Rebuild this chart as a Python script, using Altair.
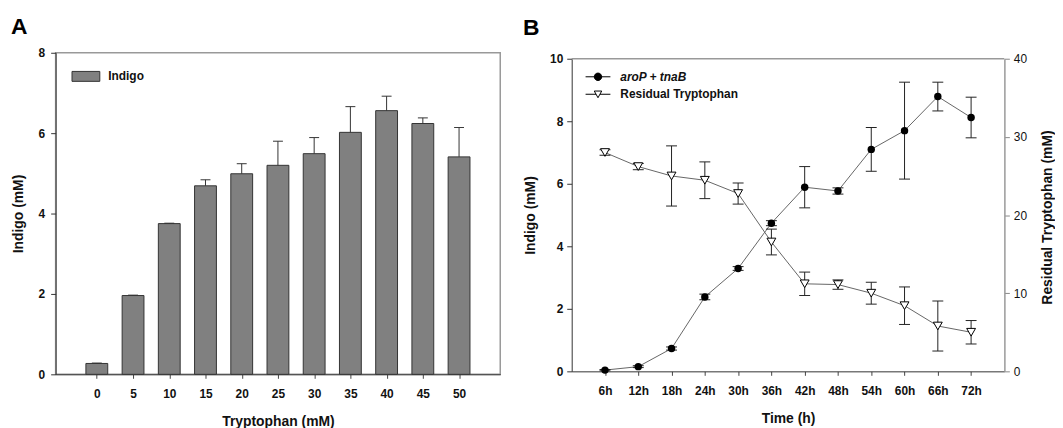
import altair as alt
import pandas as pd

FONT = "Liberation Sans"

# ---------------- Panel A data ----------------
TRP_CONC = [0, 5, 10, 15, 20, 25, 30, 35, 40, 45, 50]
INDIGO_A = [0.27, 1.96, 3.75, 4.69, 4.99, 5.20, 5.49, 6.02, 6.56, 6.24, 5.41]
INDIGO_A_ERR = [0.01, 0.01, 0.01, 0.15, 0.25, 0.60, 0.40, 0.64, 0.36, 0.14, 0.73]
A_TICKS_Y = [0, 2, 4, 6, 8]
SERIES_A = "Indigo"

# ---------------- Panel B data ----------------
TIME_LABELS = ["6h", "12h", "18h", "24h", "30h", "36h", "42h", "48h", "54h", "60h", "66h", "72h"]
INDIGO_B = [0.04, 0.15, 0.73, 2.38, 3.29, 4.74, 5.89, 5.77, 7.10, 7.70, 8.79, 8.12]
INDIGO_B_ERR = [0.02, 0.03, 0.05, 0.09, 0.06, 0.08, 0.66, 0.10, 0.70, 1.55, 0.46, 0.65]
TRP_B = [28.0, 26.2, 25.0, 24.45, 22.75, 16.55, 11.2, 11.1, 10.0, 8.4, 5.8, 5.0]
TRP_B_ERR = [0.35, 0.4, 3.85, 2.35, 1.35, 1.65, 1.5, 0.6, 1.4, 2.4, 3.2, 1.5]
B_TICKS_LEFT = [0, 2, 4, 6, 8, 10]
B_TICKS_RIGHT = [0, 10, 20, 30, 40]
SERIES_B1 = "aroP + tnaB"
SERIES_B2 = "Residual Tryptophan"

dfA = pd.DataFrame({"trp": TRP_CONC, "indigo": INDIGO_A, "err": INDIGO_A_ERR})
dfA["hi"] = dfA["indigo"] + dfA["err"]
dfA["series"] = SERIES_A

dfB = pd.DataFrame({
    "time": TIME_LABELS,
    "idx": list(range(len(TIME_LABELS))),
    "ind": INDIGO_B,
    "ind_err": INDIGO_B_ERR,
    "trp": TRP_B,
    "trp_err": TRP_B_ERR,
})
dfB["ind_lo"] = dfB["ind"] - dfB["ind_err"]
dfB["ind_hi"] = dfB["ind"] + dfB["ind_err"]
dfB["trp_lo"] = dfB["trp"] - dfB["trp_err"]
dfB["trp_hi"] = dfB["trp"] + dfB["trp_err"]
dfB["s1"] = SERIES_B1
dfB["s2"] = SERIES_B2
dfFrame = pd.DataFrame({"top": [max(B_TICKS_LEFT)]})

DARK = "#333333"
TXT = "#111111"
FRAME = "#999999"

common_lab = dict(labelFont=FONT, labelFontSize=12, labelColor=TXT,
                  titleFont=FONT, titleFontSize=14, titleFontWeight="bold", titleColor=TXT,
                  grid=False)

# ---------------- Panel A ----------------
WA, HA = 448, 324
xA = alt.X("trp:Q", scale=alt.Scale(domain=[-5, 55], nice=False, zero=False),
           axis=alt.Axis(values=TRP_CONC, format="d", title="Tryptophan (mM)",
                         tickSize=4, tickColor="#444444", domainColor=DARK,
                         labelPadding=10, labelFontWeight="bold",
                         titleY=41, titleBaseline="top", **common_lab))
yScaleA = alt.Scale(domain=[0, 8], nice=False, zero=True)
yAxisA = alt.Axis(values=A_TICKS_Y, title="Indigo (mM)", tickSize=5, tickColor=DARK,
                  domainColor=DARK, labelPadding=6, labelFontWeight="bold",
                  titleX=-37, titleY=HA / 2, titleAngle=270, titleBaseline="middle",
                  **common_lab)

legA = alt.Legend(title=None, orient="none", legendX=16, legendY=9.3,
                  symbolType="M-1,-0.357H1V0.357H-1Z", symbolSize=784,
                  symbolStrokeWidth=1, symbolStrokeColor=DARK, symbolFillColor="#808080",
                  labelFont=FONT, labelFontSize=12, labelFontWeight="bold", labelColor=TXT,
                  labelOffset=8, padding=0)

barsA = alt.Chart(dfA).mark_bar(size=22, stroke=DARK, strokeWidth=1).encode(
    x=xA,
    y=alt.Y("indigo:Q", scale=yScaleA, axis=yAxisA),
    fill=alt.Fill("series:N", scale=alt.Scale(domain=[SERIES_A], range=["#808080"]), legend=legA),
)
errA = alt.Chart(dfA).mark_rule(color=DARK, strokeWidth=1).encode(
    x=xA, y=alt.Y("indigo:Q", scale=yScaleA, axis=yAxisA), y2="hi:Q")
capA = alt.Chart(dfA).mark_tick(orient="horizontal", size=10, thickness=1, color=DARK, opacity=1).encode(
    x=xA, y=alt.Y("hi:Q", scale=yScaleA, axis=yAxisA))

chartA = alt.layer(barsA, errA, capA).properties(
    width=WA, height=HA,
    title=alt.TitleParams("A", anchor="start", frame="group", dx=-45, offset=-10, fontSize=23,
                          font=FONT, fontWeight="bold", baseline="alphabetic", color="black"),
)

# ---------------- Panel B ----------------
TOPGAP = 6
WB, HB = 436, 315 + TOPGAP
xB = alt.X("time:N", sort=TIME_LABELS, scale=alt.Scale(type="point", padding=1),
           axis=alt.Axis(labelAngle=0, title="Time (h)", tickSize=4, tickColor="#444444",
                         domainColor=DARK, labelPadding=10, labelFontWeight="bold",
                         titleY=40.7, titleBaseline="top", **common_lab))
yScaleL = alt.Scale(domain=[0, 10], nice=False, zero=True, range=[HB, TOPGAP])
yAxisL = alt.Axis(values=B_TICKS_LEFT, title="Indigo (mM)", orient="left", tickSize=5,
                  tickColor=DARK, domainColor=DARK, labelPadding=4, labelFontWeight="bold",
                  titleX=-41, titleY=(HB + TOPGAP) / 2, titleAngle=270, titleBaseline="middle",
                  **common_lab)
yScaleR = alt.Scale(domain=[0, 40], nice=False, zero=True, range=[HB, TOPGAP])
yAxisR = alt.Axis(values=B_TICKS_RIGHT, title="Residual Tryptophan (mM)", orient="right", tickSize=5,
                  tickColor="#888888", domainColor=FRAME, domainWidth=1.5, labelPadding=4,
                  labelFontWeight="normal",
                  titleX=43, titleY=(HB + TOPGAP) / 2 + 2, titleAngle=270, titleBaseline="middle",
                  **common_lab)

CIRCLE_PATH = "M-1,0H1M-0.3,0A0.3,0.3 0 1,0 0.3,0A0.3,0.3 0 1,0 -0.3,0Z"
TRI_PATH = "M-1,0H-0.16M0.16,0H1M-0.3,-0.26L0.3,-0.26L0,0.28Z"

legB1 = alt.Legend(title=None, orient="none", legendX=13.5, legendY=5.2 + TOPGAP,
                   symbolType=CIRCLE_PATH, symbolSize=625, symbolStrokeWidth=1,
                   symbolFillColor="black", symbolStrokeColor="black", symbolOpacity=1,
                   labelFont=FONT, labelFontSize=12, labelFontWeight="bold", labelFontStyle="italic",
                   labelColor=TXT, labelOffset=9.5, padding=0)
legB2 = alt.Legend(title=None, orient="none", legendX=13.5, legendY=22.8 + TOPGAP,
                   symbolType=TRI_PATH, symbolSize=625, symbolStrokeWidth=1,
                   symbolFillColor="white", symbolStrokeColor="black", symbolOpacity=1,
                   labelFont=FONT, labelFontSize=12, labelFontWeight="bold",
                   labelColor=TXT, labelOffset=9.5, padding=0)

baseB = alt.Chart(dfB)
LINE_C = "#666666"
ERR_C = "#222222"

frame_top = alt.Chart(dfFrame).mark_rule(color=FRAME, strokeWidth=1.5).encode(
    y=alt.Y("top:Q", scale=yScaleL, axis=yAxisL))
line_i = baseB.mark_line(color=LINE_C, strokeWidth=1).encode(
    x=xB, y=alt.Y("ind:Q", scale=yScaleL, axis=yAxisL), order="idx:Q")
err_i = baseB.mark_rule(color=ERR_C, strokeWidth=1).encode(
    x=xB, y=alt.Y("ind_lo:Q", scale=yScaleL, axis=yAxisL), y2="ind_hi:Q")
caplo_i = baseB.mark_tick(orient="horizontal", size=11, thickness=1, color=ERR_C, opacity=1).encode(
    x=xB, y=alt.Y("ind_lo:Q", scale=yScaleL, axis=yAxisL))
caphi_i = baseB.mark_tick(orient="horizontal", size=11, thickness=1, color=ERR_C, opacity=1).encode(
    x=xB, y=alt.Y("ind_hi:Q", scale=yScaleL, axis=yAxisL))
pts_i = baseB.mark_point(filled=True, size=56, opacity=1).encode(
    x=xB, y=alt.Y("ind:Q", scale=yScaleL, axis=yAxisL),
    fill=alt.Fill("s1:N", scale=alt.Scale(domain=[SERIES_B1], range=["black"]), legend=legB1))

line_t = baseB.mark_line(color=LINE_C, strokeWidth=1).encode(
    x=xB, y=alt.Y("trp:Q", scale=yScaleR, axis=yAxisR), order="idx:Q")
err_t = baseB.mark_rule(color=ERR_C, strokeWidth=1).encode(
    x=xB, y=alt.Y("trp_lo:Q", scale=yScaleR, axis=yAxisR), y2="trp_hi:Q")
caplo_t = baseB.mark_tick(orient="horizontal", size=11, thickness=1, color=ERR_C, opacity=1).encode(
    x=xB, y=alt.Y("trp_lo:Q", scale=yScaleR, axis=yAxisR))
caphi_t = baseB.mark_tick(orient="horizontal", size=11, thickness=1, color=ERR_C, opacity=1).encode(
    x=xB, y=alt.Y("trp_hi:Q", scale=yScaleR, axis=yAxisR))
pts_t = baseB.mark_point(shape="triangle-down", filled=True, fill="white", size=80,
                         strokeWidth=1, opacity=1).encode(
    x=xB, y=alt.Y("trp:Q", scale=yScaleR, axis=yAxisR),
    stroke=alt.Stroke("s2:N", scale=alt.Scale(domain=[SERIES_B2], range=["black"]), legend=legB2))

leftB = alt.layer(frame_top, line_i, err_i, caplo_i, caphi_i, pts_i)
rightB = alt.layer(line_t, err_t, caplo_t, caphi_t, pts_t)

chartB = alt.layer(leftB, rightB).resolve_scale(y="independent").properties(
    width=WB, height=HB,
    view=alt.ViewBackground(stroke="transparent"),
    title=alt.TitleParams("B", anchor="start", frame="group", dx=-49, offset=-5.5, fontSize=23,
                          font=FONT, fontWeight="bold", baseline="alphabetic", color="black"),
)

chart = alt.concat(chartA, chartB, columns=2, spacing=21, align="none").resolve_scale(
    fill="independent", stroke="independent"
).resolve_legend(fill="independent", stroke="independent").properties(
    padding={"left": 2, "top": 5.5, "right": 0, "bottom": 0},
    background="white",
).configure_view(stroke=FRAME, strokeWidth=1.5)

chart.save("out.html", embed_options={"renderer": "svg", "actions": False})
